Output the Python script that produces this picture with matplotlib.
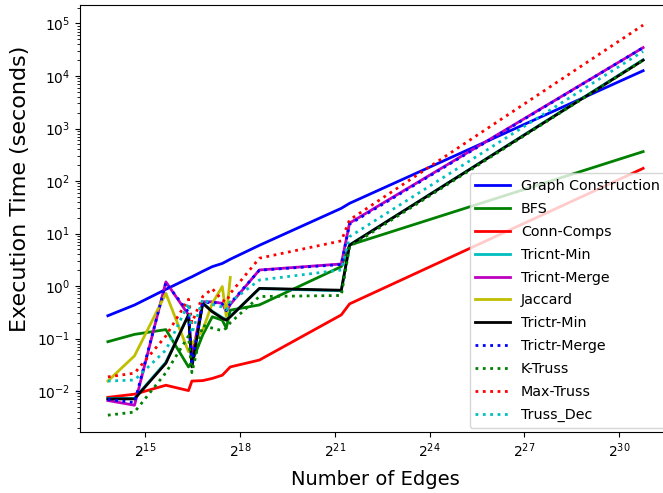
import numpy as np
import matplotlib
matplotlib.use("Agg")
import matplotlib.pyplot as plt

# number of edges of each test graph
edges = [14484, 25973, 51700, 84900, 91500, 116000, 143000, 178100,
         194500, 212300, 401800, 2423000, 2905000, 1.818e9]

graph_construction = [0.272, 0.435, 0.865, 1.40, 1.50, 1.91, 2.34, 2.69,
                      2.95, 3.24, 5.96, 30.2, 37.6, 12600]
bfs = [0.087, 0.120, 0.148, 0.0288, 0.0355, 0.117, 0.260, 0.224,
       0.158, 0.347, 0.437, 2.34, 6.03, 363]
conn_comps = [0.00759, 0.00871, 0.0129, 0.0102, 0.0155, 0.0158, 0.0174, 0.0200,
              0.0240, 0.0288, 0.0389, 0.282, 0.457, 174]
tricnt_min = [0.00724, 0.00724, 0.0355, 0.282, 0.0316, 0.479, 0.331, 0.251,
              0.229, 0.263, 0.891, 0.813, 6.03, 20400]
tricnt_merge = [0.0066, 0.00537, 1.20, 0.282, 0.0447, 0.501, 0.501, 0.468,
                0.324, 0.447, 2.02, 2.63, 15.8, 34700]
jaccard = [0.0155, 0.0468, 0.724, 0.0562, 0.0794, 0.145, 0.468, 0.977,
           0.263, 1.46, np.nan, np.nan, np.nan, np.nan]
trictr_min = [0.00708, 0.00708, 0.0339, 0.282, 0.0288, 0.468, 0.324, 0.243,
              0.224, 0.260, 0.902, 0.832, 6.03, 19950]
trictr_merge = [0.00692, 0.00603, 1.15, 0.316, 0.0355, 0.479, 0.490, 0.457,
                0.339, 0.468, 2.00, 2.57, 15.1, 34700]
k_truss = [0.00347, 0.00398, 0.0224, 0.112, 0.0224, 0.178, 0.158, 0.141,
           0.158, 0.200, 0.631, 0.661, 5.62, 19950]
max_truss = [0.0186, 0.0219, 0.112, 0.562, 0.200, 0.631, 0.891, 0.537,
             0.501, 0.724, 3.39, 7.24, 18.2, 93300]
truss_dec = [0.0155, 0.0162, 0.0603, 0.468, 0.126, 0.562, 0.447, 0.398,
             0.355, 0.501, 1.30, 2.02, 8.71, 29500]

fig = plt.figure(figsize=(6.63, 4.93), dpi=100)
ax = fig.add_axes([80 / 663, 61 / 493, 590 / 663, 427 / 493])

ax.plot(edges, graph_construction, "b-", lw=2, label="Graph Construction")
ax.plot(edges, bfs, "g-", lw=2, label="BFS")
ax.plot(edges, conn_comps, "r-", lw=2, label="Conn-Comps")
ax.plot(edges, tricnt_min, "c-", lw=2, label="Tricnt-Min")
ax.plot(edges, tricnt_merge, "m-", lw=2, label="Tricnt-Merge")
ax.plot(edges, jaccard, "y-", lw=2, label="Jaccard")
ax.plot(edges, trictr_min, "k-", lw=2, label="Trictr-Min")
ax.plot(edges, trictr_merge, "b:", lw=2, label="Trictr-Merge")
ax.plot(edges, k_truss, "g:", lw=2, label="K-Truss")
ax.plot(edges, max_truss, "r:", lw=2, label="Max-Truss")
ax.plot(edges, truss_dec, "c:", lw=2, label="Truss_Dec")

ax.set_xscale("log", base=2)
ax.set_yscale("log")
ax.set_xticks([2 ** p for p in range(15, 31, 3)])
ax.set_xlim(2 ** 12.94, 2 ** 31.61)
ax.set_ylim(10 ** -2.78, 10 ** 5.352)

ax.set_xlabel("Number of Edges", fontsize=14, labelpad=7)
ax.set_ylabel("Execution Time (seconds)", fontsize=16)
ax.yaxis.set_label_coords(-0.085, 0.57)
ax.legend(loc="lower right", fontsize=10.3, labelspacing=0.62,
          handlelength=2.4, borderaxespad=0.3)

fig.savefig("out.png", dpi=100)
